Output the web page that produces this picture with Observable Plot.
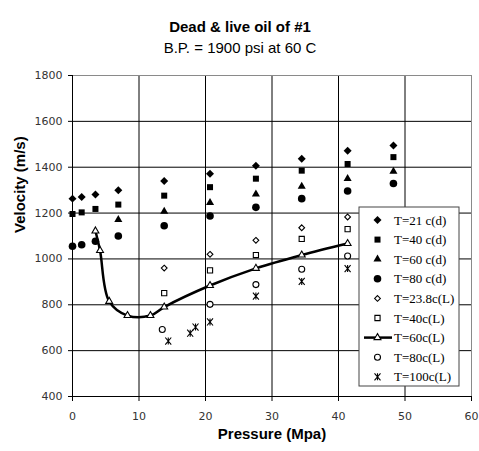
<!DOCTYPE html>
<html>
<head>
<meta charset="utf-8">
<script src="https://cdn.jsdelivr.net/npm/d3@7"></script>
<script src="https://cdn.jsdelivr.net/npm/@observablehq/plot@0.6"></script>
<style>
  html, body { margin: 0; padding: 0; background: white; }
  #chart { width: 479px; height: 451px; }
</style>
</head>
<body>
<div id="chart"></div>
<script>
// ---- Data ----
const titleText = "Dead & live oil of #1";
const subtitleText = "B.P. = 1900 psi at 60 C";
const xLabel = "Pressure (Mpa)";
const yLabel = "Velocity (m/s)";
const xTicks = [0, 10, 20, 30, 40, 50, 60];
const yTicks = [400, 600, 800, 1000, 1200, 1400, 1600, 1800];

const pDead = [0, 1.38, 3.45, 6.89, 13.79, 20.68, 27.58, 34.47, 41.37, 48.26];
const v21d = [1263, 1270, 1281, 1300, 1340, 1372, 1406, 1437, 1472, 1495];
const v40d = [1196, 1203, 1218, 1237, 1276, 1313, 1350, 1385, 1414, 1444];
const p60d = [6.89, 13.79, 20.68, 27.58, 34.47, 41.37, 48.26];
const v60d = [1171, 1207, 1245, 1282, 1316, 1350, 1382];
const v80d = [1055, 1062, 1077, 1100, 1145, 1187, 1225, 1263, 1296, 1329];

const pLive = [13.79, 20.68, 27.58, 34.47, 41.37];
const v238L = [960, 1020, 1081, 1136, 1183];
const v40L = [851, 950, 1017, 1087, 1130];
const p60L = [3.45, 4.14, 5.52, 8.27, 11.72, 13.79, 20.68, 27.58, 34.47, 41.37];
const v60L = [1122, 1037, 815, 753, 753, 790, 884, 959, 1017, 1067];
const p80L = [13.5, 20.68, 27.58, 34.47, 41.37];
const v80L = [692, 802, 888, 955, 1013];
const p100L = [14.4, 17.7, 18.5, 20.68, 27.58, 34.47, 41.37];
const v100L = [642, 676, 703, 725, 838, 902, 958];

const legendLabels = ["T=21 c(d)", "T=40 c(d)", "T=60 c(d)", "T=80 c(d)",
  "T=23.8c(L)", "T=40c(L)", "T=60c(L)", "T=80c(L)", "T=100c(L)"];

// ---- helpers ----
const pts = (xs, ys) => xs.map((x, i) => ({x, y: ys[i]}));

const asteriskSym = {
  draw(ctx, size) {
    const r = Math.sqrt(size / Math.PI) * 1.1;
    const a = r * 0.85;
    ctx.moveTo(-a, -r); ctx.lineTo(a, r);
    ctx.moveTo(-a, r); ctx.lineTo(a, -r);
    ctx.moveTo(0, -r); ctx.lineTo(0, r);
  }
};

const styles = [
  {symbol: "diamond2", r: 3.6, fill: "black", stroke: "none"},
  {symbol: "square", r: 3.4, fill: "black", stroke: "none"},
  {symbol: "triangle", r: 3.0, fill: "black", stroke: "none"},
  {symbol: "circle", r: 3.8, fill: "black", stroke: "none"},
  {symbol: "diamond2", r: 2.6, fill: "white", stroke: "black"},
  {symbol: "square2", r: 3.3, fill: "white", stroke: "black"},
  {symbol: "triangle2", r: 3.3, fill: "white", stroke: "black"},
  {symbol: "circle", r: 3.0, fill: "white", stroke: "black"},
  {symbol: asteriskSym, r: 3.2, fill: "none", stroke: "black"}
];

const series = [
  pts(pDead, v21d), pts(pDead, v40d), pts(p60d, v60d), pts(pDead, v80d),
  pts(pLive, v238L), pts(pLive, v40L), pts(p60L, v60L), pts(p80L, v80L), pts(p100L, v100L)
];

const dotMarks = series.map((data, i) => Plot.dot(data, {
  x: "x", y: "y",
  symbol: () => styles[i].symbol,
  r: styles[i].r,
  fill: styles[i].fill,
  stroke: styles[i].stroke,
  strokeWidth: 1.1
}));

const chart = Plot.plot({
  width: 479,
  height: 451,
  marginLeft: 72,
  marginRight: 8,
  marginTop: 75,
  marginBottom: 55,
  style: {fontFamily: "DejaVu Sans", fontSize: "11px", background: "white", overflow: "visible"},
  x: {domain: [0, 60]},
  y: {domain: [400, 1800]},
  symbol: {type: "identity"},
  marks: [
    Plot.gridX(xTicks.filter(d => d > 0 && d < 60), {stroke: "black", strokeOpacity: 1, strokeWidth: 1}),
    Plot.gridY(yTicks.filter(d => d > 400 && d < 1800), {stroke: "black", strokeOpacity: 1, strokeWidth: 1}),
    Plot.ruleY([1800], {stroke: "#8a8a8a", strokeWidth: 1}),
    Plot.ruleX([60], {stroke: "#8a8a8a", strokeWidth: 1}),
    Plot.ruleY([400], {stroke: "black", strokeWidth: 1}),
    Plot.ruleX([0], {stroke: "black", strokeWidth: 1}),
    Plot.axisX({ticks: xTicks, tickSize: 5, tickPadding: 11, tickFormat: d => String(d), label: null, fill: "#333", stroke: "black"}),
    Plot.axisY({ticks: yTicks, tickSize: 4, tickPadding: 6, tickFormat: d => String(d), label: null, fill: "#333", stroke: "black"}),
    Plot.line(series[6], {x: "x", y: "y", curve: "catmull-rom", stroke: "black", strokeWidth: 2.5}),
    ...dotMarks,
    Plot.text([titleText], {frameAnchor: "top", dx: -32, dy: -54, fontWeight: "bold", fontSize: 15, fontFamily: "Liberation Sans", fill: "black"}),
    Plot.text([subtitleText], {frameAnchor: "top", dx: -32, dy: -33, fontSize: 15, fontFamily: "Liberation Sans", fill: "black"}),
    Plot.text([xLabel], {frameAnchor: "bottom", dy: 42, fontWeight: "bold", fontSize: 15, fontFamily: "Liberation Sans", fill: "black"}),
    Plot.text([yLabel], {frameAnchor: "left", dx: -52, dy: -3, rotate: -90, fontWeight: "bold", fontSize: 15, fontFamily: "Liberation Sans", fill: "black"})
  ]
});

document.getElementById("chart").appendChild(chart);

// ---- Legend ----
const svg = d3.select(chart);
const lg = svg.append("g").attr("class", "legend").attr("text-anchor", "start");
const bx = 359, by = 207, bw = 100, bh = 179;
lg.append("rect").attr("x", bx).attr("y", by).attr("width", bw).attr("height", bh)
  .attr("fill", "white").attr("stroke", "#444").attr("stroke-width", 1);
const d3Sym = {
  "diamond2": d3.symbolDiamond2, "square": d3.symbolSquare, "triangle": d3.symbolTriangle,
  "circle": d3.symbolCircle, "square2": d3.symbolSquare2, "triangle2": d3.symbolTriangle2
};
legendLabels.forEach((lab, i) => {
  const yy = 220 + i * 19.6;
  const st = styles[i];
  if (i === 6) {
    lg.append("line").attr("x1", 364).attr("x2", 392).attr("y1", yy).attr("y2", yy)
      .attr("stroke", "black").attr("stroke-width", 2.5);
  }
  const type = typeof st.symbol === "string" ? d3Sym[st.symbol] : st.symbol;
  lg.append("path")
    .attr("d", d3.symbol(type, st.r * st.r * Math.PI)())
    .attr("transform", `translate(377.5,${yy})`)
    .attr("fill", st.fill).attr("stroke", st.stroke).attr("stroke-width", 1.1);
  lg.append("text").attr("x", 394).attr("y", yy).attr("dy", "0.35em")
    .attr("text-anchor", "start")
    .attr("font-family", "Liberation Serif").attr("font-size", 13).attr("fill", "black")
    .text(lab);
});
</script>
</body>
</html>
